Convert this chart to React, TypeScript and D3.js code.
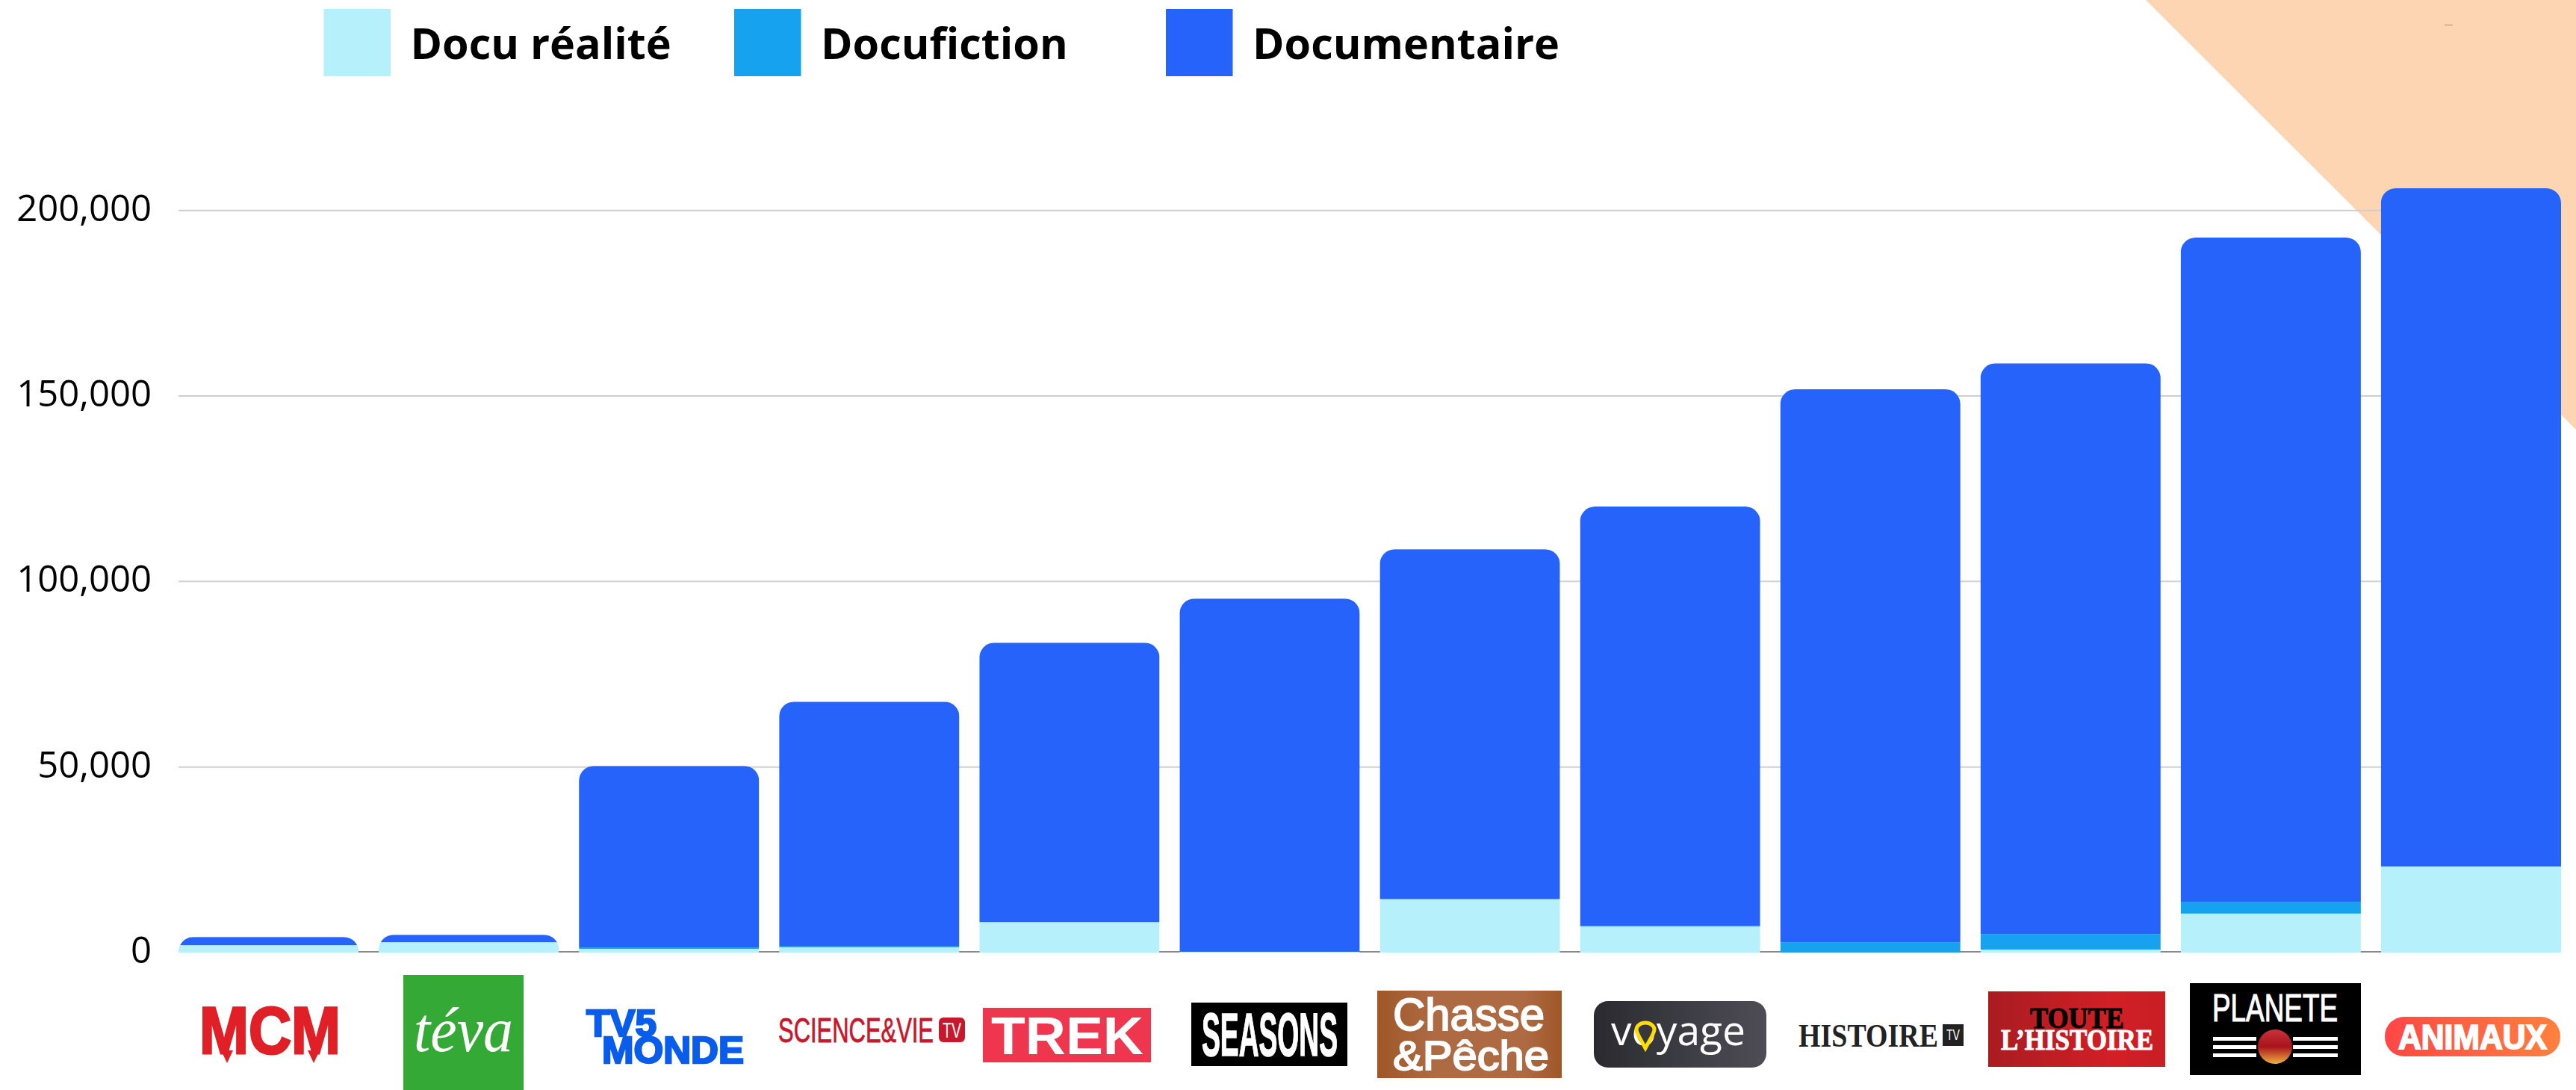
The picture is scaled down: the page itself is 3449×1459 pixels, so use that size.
import React, { useEffect, useRef } from 'react';
import * as d3 from 'd3';

const channels = ['MCM', 'téva', 'TV5 Monde', 'Science & Vie TV', 'Trek', 'Seasons', 'Chasse & Pêche', 'Voyage', 'Histoire TV', "Toute l'Histoire", 'Planète', 'Animaux'];
const seriesNames = ['Docu réalité', 'Docufiction', 'Documentaire'];
const seriesColors = ['#B5F0FB', '#17A2F0', '#2563FA'];

const docuRealite = [2000, 2800, 1000, 1400, 8200, 200, 14400, 7000, 0, 800, 10500, 23200];
const docufiction = [0, 0, 400, 400, 0, 0, 0, 200, 2700, 4200, 3200, 0];
const documentaire = [2200, 2000, 48900, 65800, 75300, 95200, 94300, 113000, 149100, 153800, 179000, 182800];
const yTicks = [0, 50000, 100000, 150000, 200000];

const WIDTH = 3449;
const HEIGHT = 1459;
const FONT = '"Open Sans", sans-serif';
const NARROW = '"Liberation Sans Narrow", "Liberation Sans", sans-serif';
const SANS = '"Liberation Sans", sans-serif';
const SERIF = '"Liberation Serif", serif';

// x = left edge, w = width the text has to fill in the logo
const Fit = ({ x, y, w, size, font, fill, weight = 700, italic = false, stroke = 0, children }: any) => (
  <text
    x={x}
    y={y}
    textLength={w}
    lengthAdjust="spacingAndGlyphs"
    fontFamily={font}
    fontSize={size}
    fontWeight={weight}
    fontStyle={italic ? 'italic' : 'normal'}
    fill={fill}
    stroke={stroke ? fill : 'none'}
    strokeWidth={stroke}
  >
    {children}
  </text>
);

// the channel logos under the axis, rebuilt from shapes and text
const logos: Record<string, React.ReactNode> = {
  MCM: (
    <g>
      <Fit x={267} y={1410} w={189} size={89} font={NARROW} fill="#E01F26" stroke={3}>MCM</Fit>
      <path d="M296,1406 L312,1406 L304,1423 Z M412,1406 L428,1406 L420,1423 Z" fill="#E01F26" />
    </g>
  ),
  'téva': (
    <g>
      <rect x={540} y={1305} width={161} height={154} fill="#35A936" />
      <Fit x={554} y={1407} w={133} size={84} font={SERIF} fill="#fff" weight={400} italic>téva</Fit>
    </g>
  ),
  'TV5 Monde': (
    <g>
      <Fit x={785} y={1387} w={94} size={50} font={SANS} fill="#0A5CEB" stroke={2.5}>TV5</Fit>
      <Fit x={806} y={1423} w={190} size={50} font={SANS} fill="#0A5CEB" stroke={2.5}>MONDE</Fit>
    </g>
  ),
  'Science & Vie TV': (
    <g>
      <Fit x={1042} y={1395} w={208} size={46} font={NARROW} fill="#C8182B" weight={400} stroke={0.8}>SCIENCE&amp;VIE</Fit>
      <rect x={1257} y={1362} width={35} height={33} rx={6} fill="#C8182B" />
      <Fit x={1262} y={1389} w={25} size={30} font={NARROW} fill="#fff" weight={400}>TV</Fit>
    </g>
  ),
  Trek: (
    <g>
      <rect x={1316} y={1349} width={225} height={73} fill="#EE374F" />
      <Fit x={1327} y={1411} w={204} size={71} font={SANS} fill="#fff">TREK</Fit>
    </g>
  ),
  Seasons: (
    <g>
      <rect x={1595} y={1342} width={209} height={85} fill="#000" />
      <Fit x={1609} y={1413} w={182} size={82} font={NARROW} fill="#fff" stroke={1.5}>SEASONS</Fit>
    </g>
  ),
  'Chasse & Pêche': (
    <g>
      <rect x={1844} y={1326} width={247} height={117} fill="url(#logoChasse)" />
      <Fit x={1865} y={1379} w={203} size={62} font={NARROW} fill="#fff" weight={400} stroke={2}>Chasse</Fit>
      <Fit x={1865} y={1432} w={209} size={56} font={NARROW} fill="#fff" weight={400} stroke={2}>&amp;Pêche</Fit>
    </g>
  ),
  Voyage: (
    <g>
      <rect x={2134} y={1340} width={231} height={89} rx={19} fill="url(#logoVoyage)" />
      <Fit x={2157} y={1399} w={180} size={54} font={FONT} fill="#fff" weight={400}>voyage</Fit>
      <path d="M2203,1403 C2196,1390 2191,1383 2191,1378 A12,9 0 0 1 2215,1378 C2215,1383 2210,1390 2203,1403 Z" fill="#37373D" stroke="#FFDD00" strokeWidth={5} />
    </g>
  ),
  'Histoire TV': (
    <g>
      <Fit x={2408} y={1401} w={187} size={45} font={SERIF} fill="#222">HISTOIRE</Fit>
      <rect x={2601} y={1371} width={28} height={29} fill="#222" />
      <Fit x={2606} y={1392} w={18} size={20} font={NARROW} fill="#fff" weight={400}>TV</Fit>
    </g>
  ),
  "Toute l'Histoire": (
    <g>
      <rect x={2662} y={1327} width={237} height={101} fill="url(#logoToute)" />
      <Fit x={2718} y={1376} w={126} size={40} font={SERIF} fill="#000" stroke={1}>TOUTE</Fit>
      <Fit x={2679} y={1405} w={204} size={40} font={SERIF} fill="#fff" stroke={1}>L’HISTOIRE</Fit>
    </g>
  ),
  'Planète': (
    <g>
      <rect x={2932} y={1316} width={229} height={123} fill="#000" />
      <Fit x={2962} y={1367} w={168} size={52} font={NARROW} fill="#fff" weight={400} stroke={1.2}>PLANETE</Fit>
      {[1388, 1399, 1410].map((top) => (
        <g key={top} fill="#fff">
          <rect x={2963} y={top} width={58} height={5} />
          <rect x={3070} y={top} width={60} height={5} />
        </g>
      ))}
      <circle cx={3046} cy={1401} r={23} fill="url(#logoPlanete)" />
    </g>
  ),
  Animaux: (
    <g>
      <rect x={3193} y={1361} width={235} height={53} rx={26} fill="url(#logoAnimaux)" />
      <Fit x={3211} y={1404} w={199} size={46} font={SANS} fill="#fff" stroke={2}>ANIMAUX</Fit>
    </g>
  ),
};

const App = () => {
  const axisRef = useRef<SVGGElement>(null);

  const x = d3.scaleBand().domain(channels).range([239, 3429]).paddingInner(0.1);
  const y = d3.scaleLinear().domain([0, 200000]).range([1275, 281.7]);

  const rows = channels.map((name, i) => ({
    name,
    [seriesNames[0]]: docuRealite[i],
    [seriesNames[1]]: docufiction[i],
    [seriesNames[2]]: documentaire[i],
  }));
  const stacked = d3.stack<any>().keys(seriesNames)(rows);
  const totals = channels.map((_, i) => docuRealite[i] + docufiction[i] + documentaire[i]);

  useEffect(() => {
    if (!axisRef.current) return;
    const axis = d3.axisLeft(y)
      .tickValues(yTicks)
      .tickSize(-(x.range()[1] - x.range()[0]))
      .tickPadding(36)
      .offset(0)
      .tickFormat((d) => d3.format(',')(d as number));
    const g = d3.select(axisRef.current);
    g.selectAll('*').remove();
    g.call(axis as any);
    g.select('.domain').remove();
    g.selectAll('.tick line')
      .attr('stroke', (d) => (d === 0 ? '#888888' : '#CFCFCF'))
      .attr('stroke-width', 2)
      .attr('transform', (d) => (d === 0 ? 'translate(0,-1)' : null));
    g.selectAll('.tick text')
      .attr('dy', '14px')
      .attr('fill', '#000')
      .style('font-family', FONT)
      .style('font-size', '49px');
  }, []);

  const legendX = [433.5, 983, 1561];

  return (
    <svg
      width={WIDTH}
      height={HEIGHT}
      viewBox={`0 0 ${WIDTH} ${HEIGHT}`}
      style={{ position: 'absolute', left: 0, top: 0, display: 'block', background: '#FFFFFF' }}
    >
      <defs>
        <linearGradient id="logoChasse">
          <stop offset="0" stopColor="#9F5727" />
          <stop offset="0.3" stopColor="#AD6A43" />
          <stop offset="0.8" stopColor="#AD6A43" />
          <stop offset="1" stopColor="#9F5727" />
        </linearGradient>
        <linearGradient id="logoVoyage">
          <stop offset="0" stopColor="#2A2A30" />
          <stop offset="1" stopColor="#4E4D56" />
        </linearGradient>
        <linearGradient id="logoToute">
          <stop offset="0" stopColor="#A81C20" />
          <stop offset="0.7" stopColor="#D21F26" />
          <stop offset="1" stopColor="#C81E24" />
        </linearGradient>
        <linearGradient id="logoPlanete" x1="0" y1="0" x2="0" y2="1">
          <stop offset="0" stopColor="#C8323A" />
          <stop offset="0.5" stopColor="#A8141C" />
          <stop offset="1" stopColor="#F0B040" />
        </linearGradient>
        <linearGradient id="logoAnimaux">
          <stop offset="0" stopColor="#FF4747" />
          <stop offset="1" stopColor="#FF813E" />
        </linearGradient>
        {channels.map((name, i) => (
          <clipPath id={`bar-${i}`} key={name}>
            <rect
              x={x(name)}
              y={y(totals[i])}
              width={x.bandwidth()}
              height={y(0) - y(totals[i]) + 40}
              rx={20}
            />
          </clipPath>
        ))}
      </defs>

      {/* decoration behind the chart */}
      <path d={`M2873,0 L${WIDTH},0 L${WIDTH},575 Z`} fill="#FED5B2" />
      <line x1={3273} x2={3284} y1={33.5} y2={33.5} stroke="#C8A58A" strokeWidth={1.5} />

      <g ref={axisRef} transform={`translate(${x.range()[0]},0)`} />

      {channels.map((name, i) => (
        <g key={name} clipPath={`url(#bar-${i})`}>
          {stacked.map((layer, s) => (
            <rect
              key={seriesNames[s]}
              x={x(name)}
              y={y(layer[i][1])}
              width={x.bandwidth()}
              height={y(layer[i][0]) - y(layer[i][1])}
              fill={seriesColors[s]}
            />
          ))}
        </g>
      ))}

      {seriesNames.map((name, i) => (
        <g key={name}>
          <rect x={legendX[i]} y={12} width={89.5} height={90} fill={seriesColors[i]} />
          <text x={legendX[i] + 116} y={79} fontFamily={FONT} fontWeight={700} fontSize={57.5} fill="#000">
            {name}
          </text>
        </g>
      ))}

      {channels.map((name) => (
        <g key={name}>{logos[name]}</g>
      ))}
    </svg>
  );
};

export default App;
